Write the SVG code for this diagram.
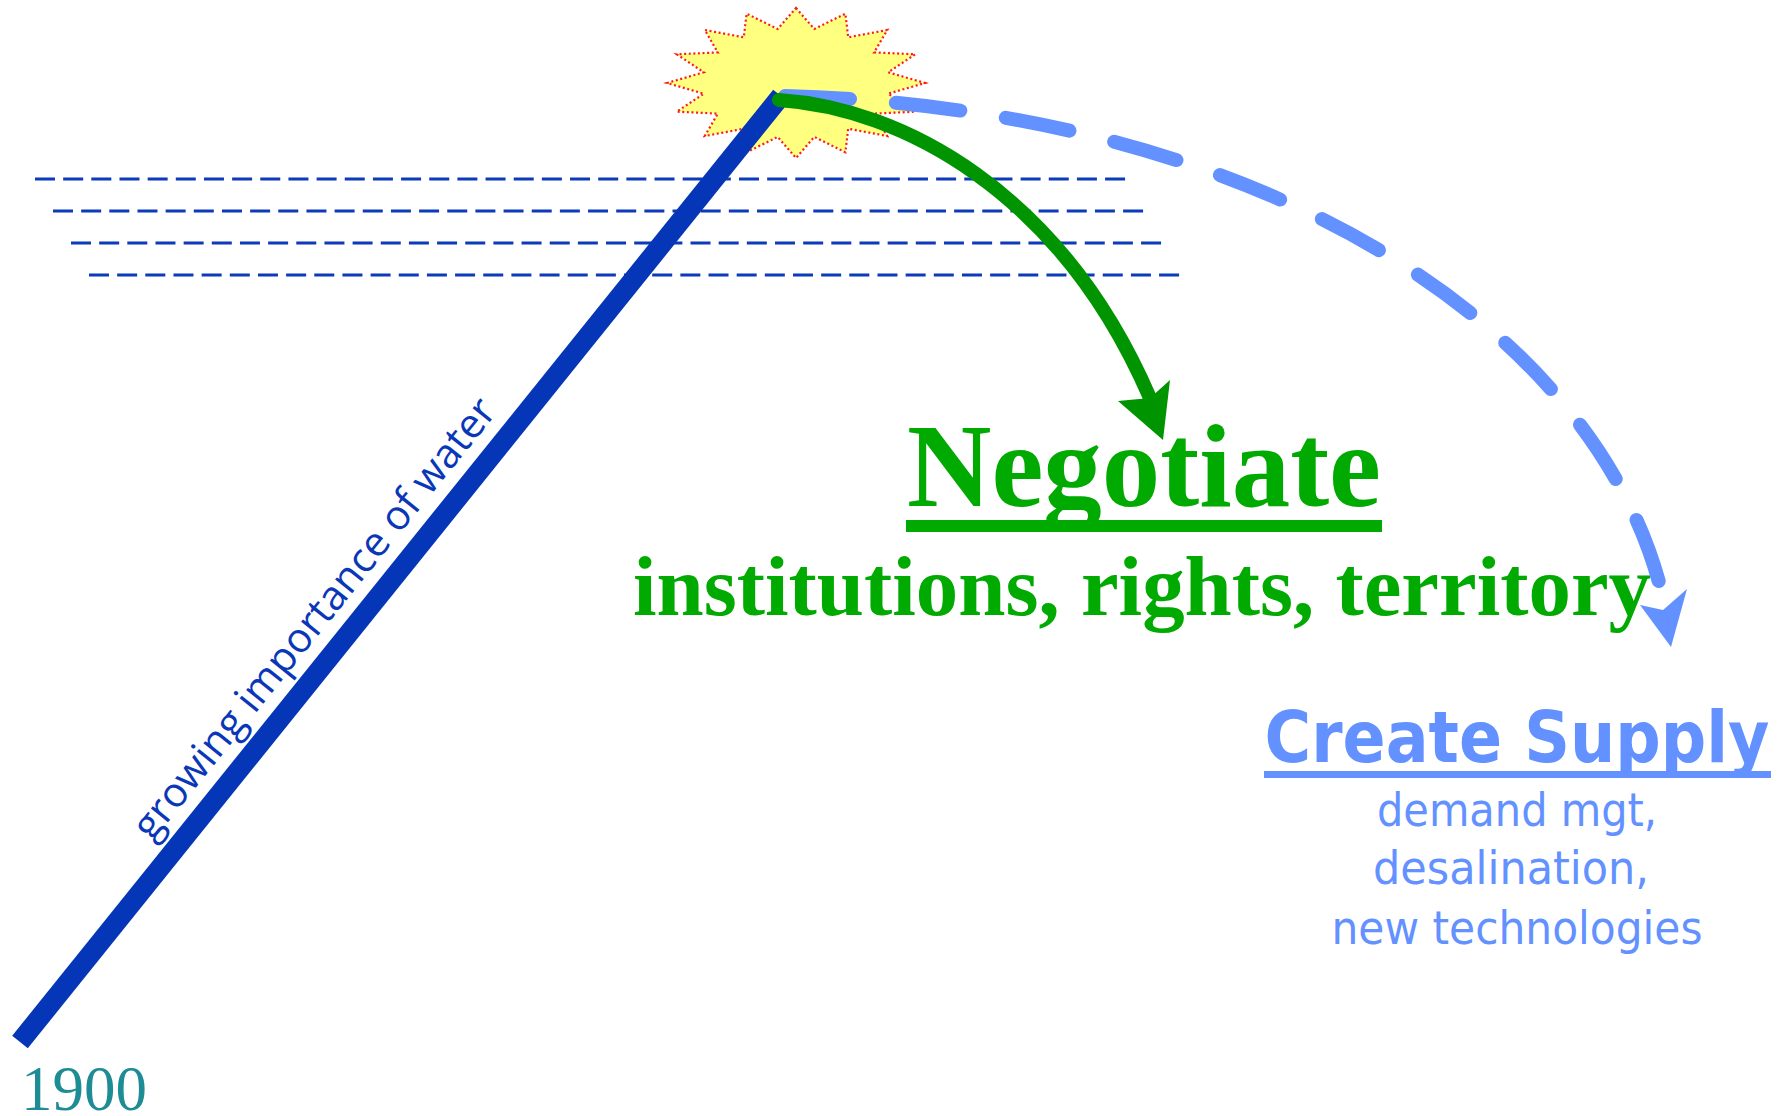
<svg xmlns="http://www.w3.org/2000/svg" width="1784" height="1116" viewBox="0 0 1784 1116">
  <style>
    .hdash { stroke: #0b3bb8; stroke-width: 3; stroke-dasharray: 20 8.16; fill: none; }
    .neg { font-family: "Liberation Serif", "Times New Roman", serif; font-weight: bold; fill: #00aa00; text-anchor: middle; }
    .sup { font-family: "Comic Sans MS", "DejaVu Sans", sans-serif; fill: #6391ff; text-anchor: middle; }
  </style>
  <rect width="1784" height="1116" fill="#ffffff"/>

  <g id="water-levels">
    <line class="hdash" x1="35" y1="179" x2="1126" y2="179"/>
    <line class="hdash" x1="53" y1="211" x2="1144" y2="211"/>
    <line class="hdash" x1="71" y1="243" x2="1162" y2="243"/>
    <line class="hdash" x1="89" y1="275" x2="1181" y2="275"/>
  </g>

  <g id="crisis-star">
    <polygon fill="#ffff80" stroke="#ff1a1a" stroke-width="2.2" stroke-dasharray="2 2.6"
      points="796,8 814.3,29 845.4,13.7 848.2,37.3 887.2,30 874.2,52.4 915.2,54.3 888.2,72.3 925,83 888.2,93.7 915.2,111.7 874.2,113.6 887.2,136 848.2,128.7 845.4,152.3 814.3,136.9 796,158 777.7,136.9 746.6,152.3 743.8,128.7 704.8,136 717.8,113.6 676.8,111.7 703.8,93.7 667,83 703.8,72.3 676.8,54.3 717.8,52.4 704.8,30 743.8,37.3 746.6,13.7 777.7,29"/>
  </g>

  <g id="growth-line">
    <line x1="20" y1="1042" x2="781" y2="96" stroke="#0536b8" stroke-width="20"/>
    <text transform="translate(325,627) rotate(-51.2)" x="0" y="0" text-anchor="middle" font-family="'Open Sans', 'Noto Sans', sans-serif" font-size="41" fill="#0a37b8">growing importance of water</text>
  </g>

  <g id="year-label">
    <text x="21" y="1110" font-family="'Liberation Serif', 'Times New Roman', serif" font-size="63" fill="#1e8c94">1900</text>
  </g>

  <g id="negotiate">
    <text class="neg" x="1144" y="506" font-size="118" textLength="474" lengthAdjust="spacingAndGlyphs">Negotiate</text>
    <rect x="906" y="520" width="476" height="12" fill="#00aa00"/>
    <text class="neg" x="1142" y="615" font-size="85" textLength="1018" lengthAdjust="spacingAndGlyphs">institutions, rights, territory</text>
  </g>

  <g id="create-supply">
    <text class="sup" x="1517" y="762" font-size="72" font-weight="bold" textLength="505" lengthAdjust="spacingAndGlyphs">Create Supply</text>
    <rect x="1264" y="771" width="507" height="7" fill="#6391ff"/>
    <text class="sup" x="1517" y="826" font-size="47" textLength="280" lengthAdjust="spacingAndGlyphs">demand mgt,</text>
    <text class="sup" x="1511" y="884" font-size="47" textLength="276" lengthAdjust="spacingAndGlyphs">desalination,</text>
    <text class="sup" x="1517" y="944" font-size="47" textLength="371" lengthAdjust="spacingAndGlyphs">new technologies</text>
  </g>

  <g id="connectors">
    <path d="M785,96 C1250,108 1600,320 1664,602" fill="none" stroke="#6391ff" stroke-width="14" stroke-linecap="round" stroke-dasharray="65 46"/>
    <polygon points="1671,647 1640,605 1663,610 1687,589" fill="#6391ff"/>
    <path d="M779,100 C900,108 1060,190 1150,398" fill="none" stroke="#009400" stroke-width="14" stroke-linecap="round"/>
    <polygon points="1163,440 1118,401 1150,398 1170,380" fill="#009400"/>
  </g>
</svg>
